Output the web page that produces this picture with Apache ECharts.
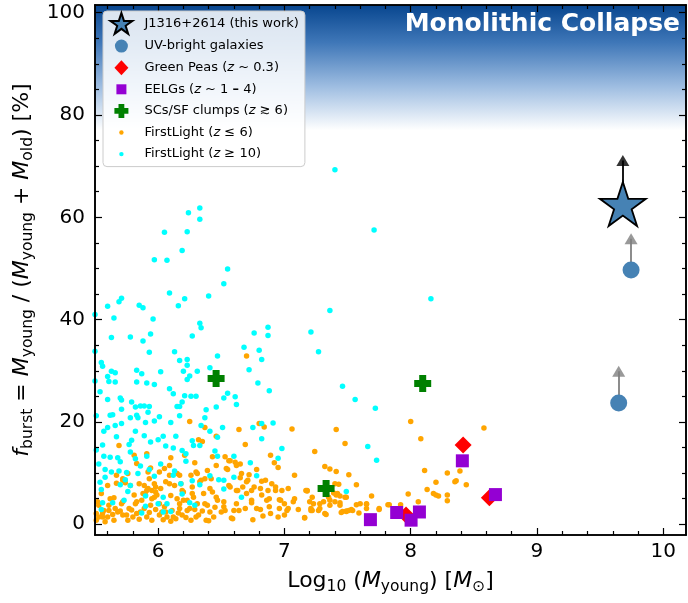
<!DOCTYPE html>
<html><head><meta charset="utf-8">
<script src="https://cdn.jsdelivr.net/npm/echarts@6/dist/echarts.min.js"></script>
<style>html,body{margin:0;padding:0;background:#fff}#c{width:688px;height:603px}</style>
</head><body><div id="c"></div><script>
// ---------------- DATA ----------------
const thisWork = [[9.68, 62.6]];
const thisWorkArrowHead = [[9.68, 71.1]];
const uvBright = [[9.745, 49.7], [9.647, 23.7]];
const uvArrowHead = [[9.745, 55.8], [9.647, 29.9]];
const greenPeas = [[8.415, 15.5], [8.623, 5.2], [7.963, 1.8]];
const eelgs = [[8.409, 12.4], [8.671, 5.8], [7.681, 0.9], [7.889, 2.3], [8.003, 0.8], [8.069, 2.4]];
const starClumps = [[6.459, 28.5], [8.095, 27.5], [7.33, 7.0]];
const firstLightLowZ = [
[6.70,32.9],[6.25,20.1],[6.37,18.9],[6.80,19.7],[6.84,19.0],[7.06,18.6],[6.64,18.5],[7.41,18.5],[5.69,15.4],[6.69,15.6],
[6.32,16.5],[6.35,16.2],[6.46,17.2],[5.91,13.8],[6.21,13.5],[6.43,13.2],[6.53,13.2],[6.56,12.4],[6.89,13.5],[6.92,12.0],
[7.24,14.2],[7.48,15.8],[7.32,11.3],[7.36,10.8],[7.41,10.3],[7.51,9.7],[7.08,9.6],[6.95,11.1],[6.10,13.0],[6.29,12.0],
[5.67,9.6],[5.72,8.9],[5.74,8.1],[5.92,10.2],[5.94,11.0],[6.01,10.2],[6.09,11.5],[6.17,9.6],[6.30,10.2],[6.33,8.3],
[6.37,8.9],[6.46,11.5],[6.54,10.9],[6.62,11.5],[6.66,9.9],[6.71,8.6],[6.76,7.3],[6.85,8.6],[6.93,6.6],[7.03,7.0],
[7.17,6.6],[7.40,7.9],[7.49,5.3],[7.57,7.7],[7.69,5.5],[7.82,3.8],[7.75,2.9],[7.59,2.2],[7.54,2.7],[7.46,2.5],
[7.32,2.1],[7.21,3.1],[7.16,1.2],[7.11,2.9],[7.07,4.4],[7.00,4.0],[6.96,3.1],[6.88,3.4],[6.83,1.6],[6.78,3.1],
[6.74,4.7],[6.70,6.0],[6.64,2.7],[6.58,1.2],[6.52,3.4],[6.46,5.3],[6.41,2.4],[6.37,4.0],[6.30,1.4],[6.25,3.1],
[6.23,4.7],[6.17,4.0],[6.12,1.4],[6.06,2.4],[5.97,5.3],[5.92,7.0],[5.88,6.0],[5.83,4.4],[5.77,3.1],[5.75,1.8],
[5.71,4.0],[5.65,5.2],[5.61,2.7],[5.56,1.4],[5.52,4.4],[5.51,2.1],[5.55,6.0],[5.60,7.6],[5.85,7.9],[5.98,7.3],
[6.09,7.9],[6.19,6.6],[6.27,6.0],[6.41,7.0],[6.56,7.6],[6.63,6.6],[6.82,5.7],[6.88,5.0],[7.20,4.4],[7.28,4.0],
[7.36,4.7],[7.42,6.0],[7.65,4.0],[7.75,3.1],
[5.81,13.5],[5.83,11.9],[5.76,9.9],[5.72,8.6],[5.78,7.6],[5.67,8.0],[5.89,7.6],[5.97,7.9],[5.91,6.6],[5.98,6.3],
[6.02,7.0],[6.06,8.3],[6.13,7.6],[6.10,5.6],[6.15,5.0],[6.20,6.3],[6.27,7.3],[6.34,8.6],[6.31,9.9],[6.42,8.9],
[6.47,4.7],[6.39,3.7],[6.31,4.0],[6.23,2.7],[6.17,3.1],[6.11,2.7],[6.05,3.4],[6.01,4.0],[5.94,3.7],[5.87,4.7],
[5.89,3.1],[5.82,4.0],[5.72,4.4],[5.66,3.1],[5.61,3.7],[5.57,2.7],[5.53,1.4],[5.60,1.4],[5.65,0.8],[5.72,1.8],
[5.76,0.8],[5.80,1.4],[5.83,2.1],[5.91,1.4],[5.95,0.8],[6.01,1.8],[6.07,1.4],[6.14,1.1],[6.19,1.8],[6.26,0.8],
[6.32,1.8],[6.38,0.8],[6.44,1.4],[6.50,2.4],[5.56,2.1],[5.68,2.4],[5.86,2.4],[6.03,2.4],[5.62,5.0],[5.81,5.7],
[5.90,5.7],[5.95,5.0],[5.99,5.7],[6.20,4.7],[6.28,5.3],[6.36,6.0],[6.43,6.3],[5.95,6.6],[5.93,8.9],[6.15,9.9],
[6.26,9.6],[6.05,10.9],[6.09,9.6],[6.18,7.9],[6.39,10.5],[5.53,3.7],[5.51,0.8],
[6.57,12.4],[6.61,12.1],[6.65,11.8],[6.55,10.7],[6.72,9.7],[6.78,10.7],[6.65,9.1],[6.70,8.3],[6.82,8.4],[6.90,7.9],
[6.93,7.3],[6.98,6.6],[7.18,6.6],[7.43,7.8],[6.57,7.3],[6.62,6.6],[6.67,7.3],[6.74,6.6],[6.81,7.0],[6.87,6.6],
[6.52,4.4],[6.62,4.0],[6.74,4.2],[6.86,4.7],[6.97,4.7],[7.08,5.0],[7.22,5.3],[7.31,4.4],[7.41,5.7],[7.44,3.7],
[6.53,2.7],[6.60,2.7],[6.69,3.1],[6.81,2.9],[6.89,2.1],[6.95,1.4],[7.03,3.1],[7.22,2.7],[7.28,3.1],[7.36,3.7],
[7.49,2.6],[6.59,1.1],[6.75,0.9],[7.00,1.8],[7.16,1.3],[7.33,1.9],
[8.00,20.1],[8.08,16.7],[8.58,18.8],[8.11,10.5],[8.29,10.0],[8.39,10.4],[8.35,8.3],[8.36,8.5],[8.20,8.2],[8.44,7.7],
[8.13,6.8],[8.18,6.0],[8.20,5.7],[8.22,5.5],[8.29,5.7],[8.29,4.6],[7.98,5.9],[8.06,4.4],[7.92,3.8],[7.83,3.8],
[7.65,3.9],[7.65,3.1],[7.60,4.0],[7.57,3.8],[7.53,2.9],[7.45,2.3],[7.49,2.5],[7.51,2.7],[7.44,4.2],[7.40,4.4],
[7.27,2.7],[7.23,4.0],[7.21,2.7],[7.02,2.7],[6.96,4.8],[7.44,5.5],[7.48,5.3],[7.39,6.1],[7.35,5.3],[7.18,6.5],
[5.58,0.5],[5.70,2.6],[5.85,1.0],[5.98,2.9],[6.10,0.6],[6.22,1.3],[6.35,2.6],[6.45,3.3],[5.64,1.9],[5.79,2.8],
[5.93,2.3],[6.04,0.9],[6.16,2.2],[6.29,2.9],[6.40,0.7]
];
const firstLightHighZ = [
[7.40,69.3],[7.71,57.5],[6.33,61.8],[6.24,60.9],[6.33,59.6],[6.05,57.1],[6.23,57.2],[6.19,53.5],[5.97,51.7],[6.07,51.6],
[6.55,49.9],[6.52,47.0],[6.09,45.2],[6.40,44.6],[6.21,44.1],[6.16,42.7],[5.71,44.2],[5.69,43.5],[5.60,42.6],[5.85,42.8],
[5.88,42.3],[5.50,41.0],[5.65,40.3],[5.96,40.1],[7.36,41.8],[6.33,39.3],[6.34,38.4],[5.63,36.5],[5.78,36.6],[6.27,36.8],
[5.88,35.8],[5.94,37.2],[6.76,37.4],[6.87,38.5],[6.87,36.9],[7.21,37.6],[6.68,34.6],[6.80,34.0],[6.82,32.2],[7.27,33.7],
[5.50,33.8],[5.93,33.6],[6.13,33.7],[5.55,31.6],[5.56,30.9],[6.47,32.9],[6.17,32.0],[6.23,32.2],[6.20,29.9],[6.23,31.1],
[6.72,30.2],[5.83,30.1],[5.87,29.4],[5.63,29.9],[5.66,29.6],[6.02,29.8],[6.25,29.0],[6.23,28.3],[6.31,29.9],[6.41,30.6],
[5.60,28.9],[5.61,27.9],[5.66,27.8],[5.83,27.8],[5.91,27.6],[5.97,27.3],[5.50,28.0],[6.09,26.5],[6.12,25.5],[6.21,25.1],
[6.26,25.0],[6.30,25.0],[6.61,24.9],[6.62,23.4],[6.55,25.6],[6.52,24.7],[6.88,26.1],[6.79,27.6],[6.46,22.9],[6.38,22.4],
[7.46,27.0],[7.56,24.4],[7.72,22.7],[5.54,25.9],[5.60,24.4],[5.70,24.7],[5.71,24.3],[5.79,23.9],[5.82,22.9],[5.86,23.1],
[5.89,23.1],[5.92,21.9],[5.93,23.0],[6.17,23.0],[6.15,23.0],[6.19,23.9],[5.62,21.3],[5.64,21.4],[5.71,22.5],[5.78,20.8],
[5.83,21.3],[5.84,20.8],[5.90,19.9],[5.97,20.2],[6.01,21.0],[6.17,21.2],[6.10,19.9],[6.34,19.3],[6.37,20.8],[6.51,18.9],
[6.82,19.7],[6.91,19.8],[5.51,21.2],[5.57,18.2],[5.60,18.9],[5.66,19.3],[5.71,19.7],[5.82,18.2],[5.67,17.1],[5.79,16.4],
[5.89,17.3],[5.94,16.1],[6.04,17.2],[6.14,17.2],[6.41,18.2],[6.47,17.0],[6.27,16.3],[6.28,15.4],[6.33,15.4],[6.75,18.9],
[6.82,16.7],[6.98,14.8],[7.66,15.2],[7.73,12.5],[5.56,15.5],[5.51,14.5],[5.57,13.3],[5.62,13.1],[5.68,13.0],[5.70,12.2],
[5.77,15.6],[5.78,14.1],[5.82,12.8],[5.86,11.4],[5.91,13.3],[6.00,16.5],[6.06,15.3],[6.12,14.9],[6.19,14.4],[6.22,13.8],
[6.22,12.3],[6.45,14.3],[6.47,13.3],[6.60,13.3],[6.73,12.0],[6.95,12.9],[5.53,11.8],[5.58,10.7],[5.63,10.2],[5.69,10.4],
[5.75,10.1],[5.84,9.9],[5.93,10.7],[6.02,11.8],[6.13,10.4],[5.54,8.2],[5.58,9.2],[5.74,8.7],[5.78,7.6],[5.97,9.4],
[6.12,9.6],[6.18,7.9],[6.27,8.5],[6.33,7.7],[6.41,9.5],[6.48,8.7],[6.52,8.6],[6.60,9.2],[6.78,9.5],[5.49,6.6],
[5.55,6.8],[5.70,7.7],[5.76,6.4],[5.90,5.5],[6.00,4.0],[6.04,5.3],[6.07,4.0],[6.19,5.9],[6.25,4.2],[6.29,3.7],
[6.52,6.9],[6.66,5.3],[7.49,6.4],[5.56,4.2],[5.64,4.2],[5.73,4.7],[5.55,2.9],[5.87,2.2],[5.90,3.5],[6.04,2.4],
[6.10,2.5],[8.16,44.1]
];
// tick values
const xMajorTicks = [6, 7, 8, 9, 10];
const xMinorTicks = [5.6,5.8,6.2,6.4,6.6,6.8,7.2,7.4,7.6,7.8,8.2,8.4,8.6,8.8,9.2,9.4,9.6,9.8];
const yMajorTicks = [0, 20, 40, 60, 80, 100];
const yMinorTicks = [5,10,15,25,30,35,45,50,55,65,70,75,85,90,95];

// ---------------- STYLE ----------------
const FONT = 'DejaVu Sans';
const X_MIN = 5.5, X_MAX = 10.18, Y_MIN = -2.1, Y_MAX = 101.5;
const N = {
  star: 'J1316+2614 (this work)', uv: 'UV-bright galaxies', gp: 'Green Peas (z~0.3)',
  eelg: 'EELGs (z~1-4)', sc: 'SCs/SF clumps (z>=6)', fl6: 'FirstLight (z<=6)', fl10: 'FirstLight (z>=10)'
};
const legendText = {};
legendText[N.star] = 'J1316+2614 (this work)';
legendText[N.uv] = 'UV-bright galaxies';
legendText[N.gp] = 'Green Peas ({i|z} ~ 0.3)';
legendText[N.eelg] = 'EELGs ({i|z} ~ 1 {b|\u2013} 4)';
legendText[N.sc] = 'SCs/SF clumps ({i|z} \u2273 6)';
legendText[N.fl6] = 'FirstLight ({i|z} \u2264 6)';
legendText[N.fl10] = 'FirstLight ({i|z} \u2265 10)';

const starPath = 'M13,0.5 L15.47,8.1 L23.46,8.1 L16.99,12.8 L19.47,20.4 L13,15.7 L6.53,20.4 L9.01,12.8 L2.54,8.1 L10.53,8.1 Z';
const plusPath = 'M5,0 L12,0 L12,5 L17,5 L17,12 L12,12 L12,17 L5,17 L5,12 L0,12 L0,5 L5,5 Z';
const pad = 'M0,0 M26,21 ';
const circ = r => `M${13 + r},10.5 A${r},${r} 0 1 1 ${13 - r},10.5 A${r},${r} 0 1 1 ${13 + r},10.5 Z`;
const legendIcons = {};
legendIcons[N.star] = 'path://' + 'M0,-0.5 M26,21.5 ' + 'M13,-0.5 L15.7,7.8 L24.5,7.8 L17.4,12.9 L20.1,21.3 L13,16.1 L5.9,21.3 L8.6,12.9 L1.5,7.8 L10.3,7.8 Z';
legendIcons[N.uv] = 'path://' + pad + circ(6.5);
legendIcons[N.gp] = 'path://' + pad + 'M13,3 L20,10.5 L13,18 L6,10.5 Z';
legendIcons[N.eelg] = 'path://' + pad + 'M8,5.5 L18,5.5 L18,15.5 L8,15.5 Z';
legendIcons[N.sc] = 'path://' + pad + 'M10.1,3.5 L15.9,3.5 L15.9,7.6 L20,7.6 L20,13.4 L15.9,13.4 L15.9,17.5 L10.1,17.5 L10.1,13.4 L6,13.4 L6,7.6 L10.1,7.6 Z';
legendIcons[N.fl6] = 'path://' + pad + circ(2.2);
legendIcons[N.fl10] = 'path://' + pad + circ(2.2);

function xAxisDef(pos, ticks, len, withLabel) {
  return {
    type: 'value', position: pos, min: X_MIN, max: X_MAX, z: 6,
    axisLine: { show: true, onZero: false, lineStyle: { color: '#000', width: 1.6 } },
    axisTick: { show: true, inside: true, length: len, customValues: ticks, lineStyle: { color: '#000', width: 1.2 } },
    axisLabel: { show: withLabel, customValues: ticks, margin: 7, color: '#000', fontFamily: FONT, fontSize: 20 },
    splitLine: { show: false }
  };
}
function yAxisDef(pos, ticks, len, withLabel) {
  return {
    type: 'value', position: pos, min: Y_MIN, max: Y_MAX, z: 6,
    axisLine: { show: true, onZero: false, lineStyle: { color: '#000', width: 1.6 } },
    axisTick: { show: true, inside: true, length: len, customValues: ticks, lineStyle: { color: '#000', width: 1.2 } },
    axisLabel: { show: withLabel, customValues: ticks, margin: 10, color: '#000', fontFamily: FONT, fontSize: 20 },
    splitLine: { show: false }
  };
}
const subRich = {
  n: { fontFamily: FONT, fontSize: 22, color: '#000', lineHeight: 28 },
  i: { fontFamily: FONT, fontSize: 22, fontStyle: 'italic', color: '#000', lineHeight: 28 },
  s: { fontFamily: FONT, fontSize: 15.5, color: '#000', lineHeight: 15, verticalAlign: 'bottom' }
};
const xMain = xAxisDef('bottom', xMajorTicks, 7, true);
xMain.name = '{n|Log}{s|10}{n| (}{i|M}{s|young}{n|) [}{i|M}{s|\u2299}{n|]}';
xMain.nameLocation = 'middle';
xMain.nameGap = 32;
xMain.nameTextStyle = { rich: subRich };
const yMain = yAxisDef('left', yMajorTicks, 7, true);
yMain.name = '{i|f}{s|burst}{n| = }{i|M}{s|young}{n| / (}{i|M}{s|young}{n| + }{i|M}{s|old}{n|) [%]}';
yMain.nameLocation = 'middle';
yMain.nameRotate = 90;
yMain.nameGap = 54;
yMain.nameTextStyle = { rich: subRich };

const gradient = new echarts.graphic.LinearGradient(0, 0, 0, 1, [
  { offset: 0, color: '#08468f' },
  { offset: 0.3, color: '#3f77b8' },
  { offset: 0.65, color: '#9ebde1' },
  { offset: 1, color: '#ffffff' }
]);

const option = {
  animation: false,
  backgroundColor: '#fff',
  grid: { left: 95, right: 2, top: 5, bottom: 68, containLabel: false },
  title: {
    text: 'Monolithic Collapse', right: 8, top: 12, padding: 0, z: 10,
    textStyle: { color: '#fff', fontSize: 25, fontWeight: 'bold', fontFamily: FONT }
  },
  legend: {
    orient: 'vertical', left: 103, top: 11, z: 10, selectedMode: false,
    itemWidth: 26, itemHeight: 21, itemGap: 0.6, padding: [1, 6, 2, 5],
    backgroundColor: 'rgba(255,255,255,0.85)', borderColor: '#cccccc', borderWidth: 1, borderRadius: 4,
    data: [N.star, N.uv, N.gp, N.eelg, N.sc, N.fl6, N.fl10].map(n => ({ name: n, icon: legendIcons[n] })),
    formatter: n => legendText[n],
    textStyle: {
      fontFamily: FONT, fontSize: 13, color: '#000', padding: [0, 0, 0, 5],
      rich: {
        i: { fontFamily: FONT, fontSize: 13, fontStyle: 'italic', color: '#000' },
        b: { fontFamily: FONT, fontSize: 13, fontWeight: 'bold', color: '#000' }
      }
    }
  },
  xAxis: [xMain, xAxisDef('bottom', xMinorTicks, 4, false), xAxisDef('top', xMajorTicks, 7, false), xAxisDef('top', xMinorTicks, 4, false)],
  yAxis: [yMain, yAxisDef('left', yMinorTicks, 4, false), yAxisDef('right', yMajorTicks, 7, false), yAxisDef('right', yMinorTicks, 4, false)],
  series: [
    { name: N.fl6, type: 'scatter', data: firstLightLowZ, symbolSize: 5.5, z: 1,
      itemStyle: { color: '#FFA500', opacity: 1 }, emphasis: { disabled: true },
      markArea: { silent: true, itemStyle: { color: gradient, borderWidth: 0 }, data: [[{ yAxis: 77 }, { yAxis: Y_MAX }]] } },
    { name: N.fl10, type: 'scatter', data: firstLightHighZ, symbolSize: 5.5, z: 2,
      itemStyle: { color: '#00FFFF', opacity: 1 }, emphasis: { disabled: true } },
    { name: N.gp, type: 'scatter', data: greenPeas, symbol: 'diamond', symbolSize: 17, z: 3,
      itemStyle: { color: '#FF0000', opacity: 1 }, emphasis: { disabled: true } },
    { name: N.eelg, type: 'scatter', data: eelgs, symbol: 'rect', symbolSize: 13, z: 3,
      itemStyle: { color: '#9400D3', opacity: 1 }, emphasis: { disabled: true } },
    { name: N.sc, type: 'scatter', data: starClumps, symbol: 'path://' + plusPath, symbolSize: 17, z: 3,
      itemStyle: { color: '#008000', opacity: 1 }, emphasis: { disabled: true } },
    { type: 'lines', coordinateSystem: 'cartesian2d', z: 3, silent: true,
      lineStyle: { color: '#808080', width: 1.8, opacity: 1 },
      data: uvBright.map((p, k) => ({ coords: [p, uvArrowHead[k]] })) },
    { type: 'scatter', data: uvArrowHead, symbol: 'triangle', symbolSize: [13, 11], z: 3, silent: true,
      itemStyle: { color: '#808080' } },
    { type: 'lines', coordinateSystem: 'cartesian2d', z: 3, silent: true,
      lineStyle: { color: '#000', width: 1.8, opacity: 1 },
      data: thisWork.map((p, k) => ({ coords: [p, thisWorkArrowHead[k]] })) },
    { type: 'scatter', data: thisWorkArrowHead, symbol: 'triangle', symbolSize: [13, 11], z: 3, silent: true,
      itemStyle: { color: '#000' } },
    { name: N.uv, type: 'scatter', data: uvBright, symbolSize: 17, z: 4,
      itemStyle: { color: '#4682B4', opacity: 1 }, emphasis: { disabled: true } },
    { name: N.star, type: 'scatter', data: thisWork, symbol: 'path://' + starPath, symbolSize: [46, 44], z: 5,
      itemStyle: { color: '#4682B4', borderColor: '#000', borderWidth: 1.8, opacity: 1 }, emphasis: { disabled: true } }
  ]
};
const chart = echarts.init(document.getElementById('c'), null, { renderer: 'canvas' });
chart.setOption(option);
</script></body></html>
